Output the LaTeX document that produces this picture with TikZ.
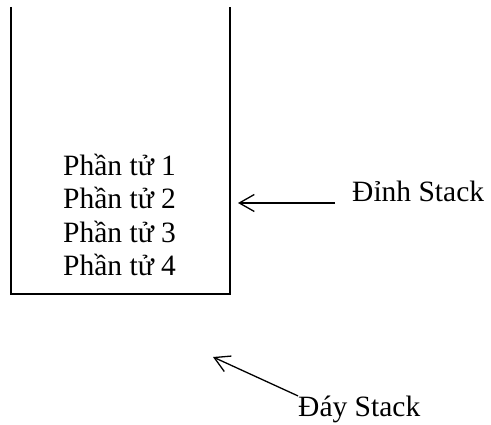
\documentclass[tikz,border=0pt]{standalone}
\usepackage{fontspec}
\setmainfont{Liberation Serif}
\usetikzlibrary{arrows.meta}
\begin{document}
\begin{tikzpicture}[x=1pt,y=-1pt,
  wall/.style={line width=2pt},
  pointer/.style={line width=1.3pt,-{Straight Barb[length=15pt,width=17pt,line width=1.3pt]}},
  label/.style={inner sep=0pt,anchor=base west,font=\fontsize{29.5}{33}\selectfont}]
  \useasboundingbox (0,0) rectangle (491,425);
  % open-topped container
  \draw[wall] (11.3,7) -- (11.3,294) -- (229.5,294) -- (229.5,7);
  % stacked elements
  \node[label] (e1) at (63,175.7) {Phần tử 1};
  \node[label] (e2) at (63,209) {Phần tử 2};
  \node[label] (e3) at (63,242.3) {Phần tử 3};
  \node[label] (e4) at (63,275.6) {Phần tử 4};
  % top and bottom markers
  \node[label] (top) at (352,201.5) {Đỉnh Stack};
  \node[label] (bottom) at (298,417) {Đáy Stack};
  \coordinate (toptip) at (238,203);
  \coordinate (bottomtip) at (213,357);
  \draw[pointer] (top.west |- toptip) ++(-17,0) -- (toptip);
  \draw[pointer] (bottom.west) ++(0,-14) -- (bottomtip);
\end{tikzpicture}
\end{document}
